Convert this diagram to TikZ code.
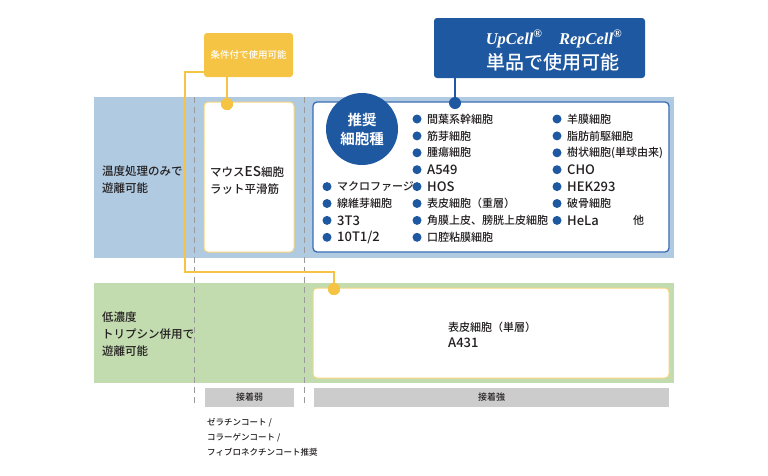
\documentclass[tikz,border=0pt]{standalone}
\usepackage{fontspec}
\setmainfont{Noto Sans CJK JP}[UprightFont=* Medium, BoldFont=* Bold]
\newfontfamily\titlefont{Liberation Serif}
\newcommand\latn[1]{{\fontsize{13}{17}\selectfont #1}}
\definecolor{bandblue}{HTML}{B0CAE1}
\definecolor{bandgreen}{HTML}{C2DCB0}
\definecolor{tagyellow}{HTML}{F5C445}
\definecolor{ylborder}{HTML}{F7D57C}
\definecolor{darkblue}{HTML}{1E58A0}
\definecolor{boxblue}{HTML}{3A6DB5}
\definecolor{bargray}{HTML}{CCCCCC}
\definecolor{dashgray}{HTML}{9A9A9A}
\definecolor{ink}{HTML}{231F20}
\begin{document}
\begin{tikzpicture}[x=1pt,y=-1pt,
  txt/.style={font=\fontsize{11}{17}\selectfont, text=ink, inner sep=0pt, anchor=west, align=left},
  lbl/.style={font=\fontsize{11.5}{17}\selectfont, text=ink, inner sep=0pt, anchor=west, align=left},
  bul/.style={circle, fill=darkblue, minimum size=9pt, inner sep=0pt},
  ydot/.style={circle, fill=tagyellow, minimum size=12pt, inner sep=0pt},
  bdot/.style={circle, fill=darkblue, minimum size=12pt, inner sep=0pt},
  whitebox/.style={fill=white, draw=ylborder, line width=1pt, rounded corners=4pt, inner sep=0pt},
  bluebox/.style={fill=white, draw=boxblue, line width=1.3pt, rounded corners=4pt, inner sep=0pt},
  graybar/.style={fill=bargray, inner sep=0pt, minimum height=19pt, font=\fontsize{9}{11}\selectfont, text=ink},
  dashline/.style={draw=dashgray, line width=0.9pt, dash pattern=on 6pt off 4pt},
  yline/.style={draw=tagyellow, line width=1.2pt},
  bline/.style={draw=darkblue, line width=1.5pt},
  note/.style={font=\fontsize{8.5}{15}\selectfont, text=ink, inner sep=0pt, anchor=west, align=left}
]
\useasboundingbox (0,0) rectangle (768,475);

% bands
\fill[bandblue] (94,97) rectangle (674,258);
\fill[bandgreen] (94,283) rectangle (674,383);

% column separators
\coordinate (s1t) at (194,97); \coordinate (s1b) at (194,407);
\coordinate (s2t) at (304,97); \coordinate (s2b) at (304,407);
\draw[dashline] (s1t) -- (s1b);
\draw[dashline] (s2t) -- (s2b);

% row labels
\node[lbl] (rowA) at (102,180) {温度処理のみで\\遊離可能};
\node[lbl] (rowB) at (102,334) {低濃度\\トリプシン併用で\\遊離可能};

% boxes
\node[whitebox, minimum width=90pt, minimum height=150pt] (mouse) at (249,177) {};
\node[lbl] (mousetxt) at (210,180) {マウス{\fontsize{13.5}{17}\selectfont ES}細胞\\ラット平滑筋};
\node[bluebox, minimum width=356pt, minimum height=150pt] (rec) at (491,177) {};
\node[whitebox, minimum width=356pt, minimum height=90pt] (epi) at (491,333) {};
\node[txt, font=\fontsize{11}{16}\selectfont] (epitxt) at (448,335) {表皮細胞（単層）\\\latn{A431}};

% tag boxes
\node[fill=tagyellow, rounded corners=3pt, minimum width=89pt, minimum height=44pt, inner sep=0pt,
      text=white, font=\fontsize{9.5}{11}\selectfont] (cond) at (248.5,55) {条件付で使用可能};
\node[fill=darkblue, rounded corners=3pt, minimum width=211pt, minimum height=60pt, inner sep=0pt] (title) at (539.5,48) {};
\node[text=white, inner sep=0pt, font=\titlefont\bfseries\itshape\fontsize{16.5}{20}\selectfont] (title1) at (554,39)
  {UpCell\textsuperscript{®}\quad RepCell\textsuperscript{®}};
\node[text=white, inner sep=0pt, font=\fontsize{19}{22}\selectfont] (title2) at (553,62) {単品で使用可能};

% recommended circle
\node[circle, fill=darkblue, minimum size=72pt, inner sep=0pt, text=white, align=center,
      font=\bfseries\fontsize{14.5}{19}\selectfont] (reco) at (362,129) {推奨\\細胞種};

% connectors
\node[ydot] (d1) at (227,104) {};
\node[ydot] (d2) at (334,289) {};
\node[bdot] (d3) at (455,103) {};
\draw[yline] (d1 |- cond.south) -- (d1);
\coordinate (k1) at (185,272);
\coordinate (k2) at (d2 |- k1);
\draw[yline] ([yshift=-17pt]cond.west) -| (k1) -- (k2) -- (d2);
\draw[bline] (d3 |- title.south) -- (d3);
\node[ydot] at (d1) {};
\node[ydot] at (d2) {};

% bullet lists
\foreach \t [count=\i] in {マクロファージ, 線維芽細胞, \latn{3T3}, \latn{10T1/2}}{
  \node[bul] (ba\i) at (327,{186.6+16.9*(\i-1)}) {};
  \node[txt] (ta\i) at (337,{186.6+16.9*(\i-1)}) {\t};
}
\foreach \t [count=\i] in {間葉系幹細胞, 筋芽細胞, 腫瘍細胞, \latn{A549}, \latn{HOS}, 表皮細胞（重層）, 角膜上皮、膀胱上皮細胞, 口腔粘膜細胞}{
  \node[bul] (bb\i) at (417,{119+16.9*(\i-1)}) {};
  \node[txt] (tb\i) at (427,{119+16.9*(\i-1)}) {\t};
}
\foreach \t [count=\i] in {羊膜細胞, 脂肪前駆細胞, 樹状細胞(単球由来), \latn{CHO}, \latn{HEK293}, 破骨細胞, \latn{HeLa}}{
  \node[bul] (bc\i) at (557,{119+16.9*(\i-1)}) {};
  \node[txt] (tc\i) at (567,{119+16.9*(\i-1)}) {\t};
}
\node[txt] (other) at (633,{119+16.9*6}) {他};

% adhesion bars
\node[graybar, minimum width=89pt] (weak) at (249.5,397.5) {接着弱};
\node[graybar, minimum width=355pt] (strong) at (491.5,397.5) {接着強};

% note
\node[note] (coat) at (207,437) {ゼラチンコート /\\コラーゲンコート /\\フィブロネクチンコート推奨};
\end{tikzpicture}
\end{document}
